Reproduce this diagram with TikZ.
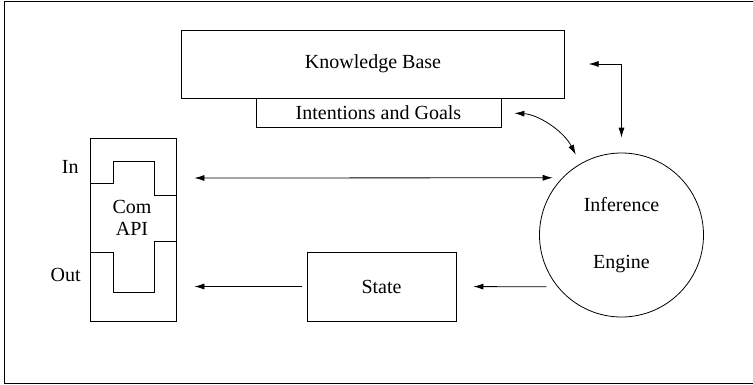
\documentclass[tikz,border=0pt]{standalone}
\usepackage{fontspec}
\setmainfont{Liberation Serif}
\usetikzlibrary{arrows.meta}
\begin{document}
\begin{tikzpicture}[x=1pt, y=-1pt, line width=.8pt,
    >={Latex[length=10pt,width=6pt]},
    font=\fontsize{20}{24}\selectfont,
    box/.style={draw, rectangle, inner sep=0pt}]
    \useasboundingbox (0,0) rectangle (753,384);
    \draw (753,1.5) -- (4.5,1.5) -- (4.5,383) -- (753,383);

    \node[box, minimum width=382.5pt, minimum height=68pt] (kb) at (373,64) {Knowledge Base};
    \node[box, minimum width=245pt, minimum height=29pt] (goals) at (378.5,112.5) {Intentions and Goals};
    \node[box, minimum width=86pt, minimum height=183pt] (api) at (133,229.5) {};
    \node[align=center, inner sep=0pt, font=\fontsize{20}{22}\selectfont] (apitext) at (132,218) {Com\\API};
    \node[box, minimum width=149pt, minimum height=69pt] (state) at (381.5,286.5) {State};
    \node[draw, circle, minimum size=164pt, align=center] (engine) at (621.5,235) {Inference\\[33pt]Engine};
    \node[anchor=east, inner sep=0pt] (in) at (79,167) {In};
    \node[anchor=east, inner sep=0pt] (out) at (81,275) {Out};

    % com api ports
    \draw (90,183) -- (113,183) -- (113,161) -- (154,161) -- (154,195) -- (176,195);
    \draw (176,241) -- (154,241) -- (154,292) -- (113,292) -- (113,252) -- (90,252);

    \draw[<->, shorten <=18pt, shorten >=9.5pt] ([yshift=51.5pt]api.east) -- (engine.136);
    \draw[<->, shorten <=24pt, shorten >=15pt] (kb.east) -| (engine.north);
    \draw[<->, shorten <=13pt, shorten >=10pt] (goals.east) to[bend left=30] (engine.120);
    \draw[->, shorten <=11pt, shorten >=17pt] (engine.219) -- (state.east);
    \draw[->, shorten <=5pt, shorten >=18pt] (state.west) -- (state.west -| api.east);
\end{tikzpicture}
\end{document}
